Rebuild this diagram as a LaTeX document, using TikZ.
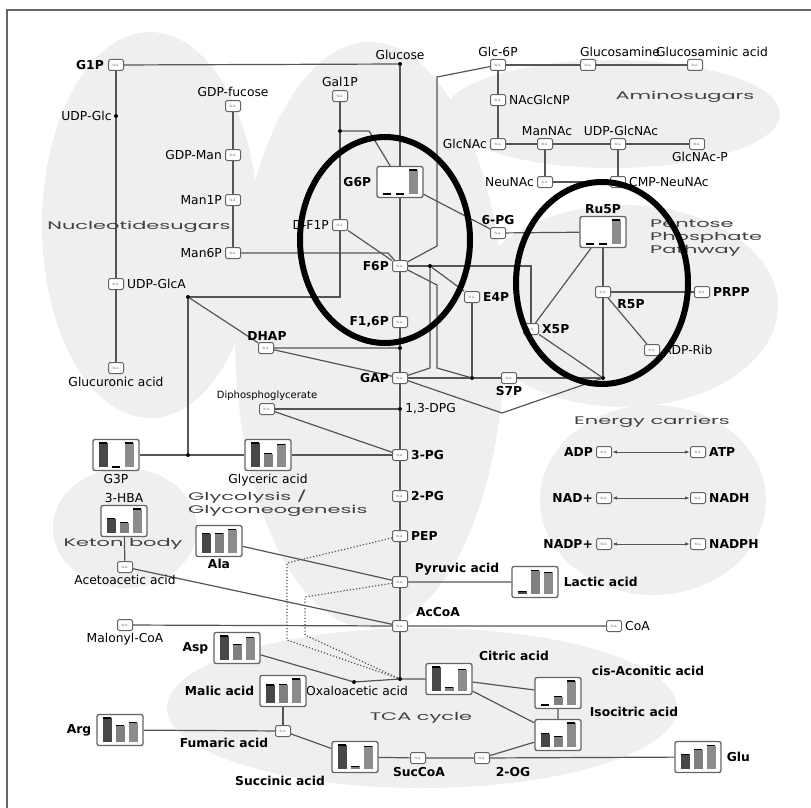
\documentclass[tikz,border=0pt]{standalone}
\usepackage{fontspec}
\setmainfont{DejaVu Sans}
\newfontfamily\grpfont[FakeStretch=1.9]{Poppins}
\usetikzlibrary{positioning,arrows.meta}

\definecolor{blobgray}{RGB}{238,240,239}
\definecolor{wire}{RGB}{85,85,85}
\definecolor{boxgray}{RGB}{100,100,100}
\definecolor{barA}{RGB}{72,72,72}
\definecolor{barB}{RGB}{128,128,128}
\definecolor{barC}{RGB}{140,140,140}

\pgfdeclarelayer{blobs}
\pgfdeclarelayer{wires}
\pgfsetlayers{blobs,wires,main}

\tikzset{
  na/.style={draw=boxgray, fill=white, line width=1pt, rounded corners=1.5pt,
    minimum width=15pt, minimum height=11pt, inner sep=0pt,
    font=\fontsize{3.2}{3.5}\selectfont, text=black!60},
  chart/.style={draw=boxgray, fill=white, line width=1.3pt, rounded corners=2pt,
    minimum width=46pt, minimum height=31pt, inner sep=0pt},
  lbl/.style={inner sep=1pt, font=\fontsize{12.3}{13}\selectfont},
  slbl/.style={inner sep=1pt, font=\fontsize{10}{11}\selectfont},
  blbl/.style={inner sep=1pt, font=\fontsize{12.3}{13}\selectfont\bfseries},
  grp/.style={inner sep=0pt, font=\fontsize{11}{13}\grpfont, text=black!75, align=left},
  jdot/.style={circle, fill=black, inner sep=0pt, minimum size=4pt},
  link/.style={draw=wire, line width=1.2pt},
  swap/.style={draw=wire, line width=1pt, <->, >={Latex[length=5pt,width=3.5pt]}},
  loopring/.style={draw=black, line width=6pt},
}

% chart box with three bars: name, x, y, h1, h2, h3
\newcommand{\barchart}[6]{%
  \node[chart] (#1) at (#2,#3) {};
  \foreach \bh/\dx/\bcol in {#4/-13/barA,#5/0/barB,#6/13/barC}{
    \fill[\bcol] ({#2+\dx-4.5},{#3+12}) rectangle ({#2+\dx+4.5},{#3+12-24*\bh});
    \draw[line width=1.1pt] ({#2+\dx-4},{#3+12-24*\bh}) -- ({#2+\dx+4},{#3+12-24*\bh});
  }
}

\begin{document}
\begin{tikzpicture}[x=1pt,y=-1pt]
  \useasboundingbox (0,0) rectangle (811,808);
  \draw[boxgray, line width=1.3pt] (7,808) -- (7,10) -- (811,10);

  % sugars, top part
  \node[na] (g1p) at (116,65) {N.A.};
  \node[blbl, left=3pt of g1p] (g1p-t) {G1P};
  \node[jdot] (glu) at (400,64) {};
  \node[lbl, above=1pt of glu] (glu-t) {Glucose};
  \node[na] (glc6p) at (498,65) {N.A.};
  \node[lbl, above=1pt of glc6p] (glc6p-t) {Glc-6P};
  \node[na] (gln) at (588,65) {N.A.};
  \node[lbl] (gln-t) at (620,52) {Glucosamine};
  \node[na] (glna) at (695,65) {N.A.};
  \node[lbl] (glna-t) at (712,52) {Glucosaminic acid};

  \node[jdot] (udpglc) at (116,116) {};
  \node[lbl, left=1pt of udpglc] (udpglc-t) {UDP-Glc};
  \node[na] (udpglca) at (116,284) {N.A.};
  \node[lbl, right=2pt of udpglca] (udpglca-t) {UDP-GlcA};
  \node[na] (glcua) at (116,368) {N.A.};
  \node[lbl, below=2pt of glcua] (glcua-t) {Glucuronic acid};

  \node[na] (gdpfuc) at (233,106) {N.A.};
  \node[lbl, above=2pt of gdpfuc] (gdpfuc-t) {GDP-fucose};
  \node[na] (gdpman) at (233,155) {N.A.};
  \node[lbl, left=2pt of gdpman] (gdpman-t) {GDP-Man};
  \node[na] (man1p) at (233,200) {N.A.};
  \node[lbl, left=2pt of man1p] (man1p-t) {Man1P};
  \node[na] (man6p) at (233,253) {N.A.};
  \node[lbl, left=2pt of man6p] (man6p-t) {Man6P};

  \node[na] (gal1p) at (340,96) {N.A.};
  \node[lbl, above=2pt of gal1p] (gal1p-t) {Gal1P};
  \node[jdot] (galj) at (340,131) {};
  \node[na] (df1p) at (340,225) {N.A.};
  \node[lbl, left=2pt of df1p] (df1p-t) {D-F1P};

  % aminosugars
  \node[na] (nacglcnp) at (498,100) {N.A.};
  \node[lbl, right=2pt of nacglcnp] (nacglcnp-t) {NAcGlcNP};
  \node[na] (glcnac) at (498,144) {N.A.};
  \node[lbl, left=2pt of glcnac] (glcnac-t) {GlcNAc};
  \node[na] (mannac) at (545,144) {N.A.};
  \node[lbl] (mannac-t) at (547,131) {ManNAc};
  \node[na] (udpglcnac) at (618,144) {N.A.};
  \node[lbl] (udpglcnac-t) at (621,131) {UDP-GlcNAc};
  \node[na] (glcnacp) at (697,144) {N.A.};
  \node[lbl] (glcnacp-t) at (700,157) {GlcNAc-P};
  \node[na] (neunac) at (545,182) {N.A.};
  \node[lbl, left=2pt of neunac] (neunac-t) {NeuNAc};
  \node[na] (cmpneunac) at (618,182) {N.A.};
  \node[lbl, right=2pt of cmpneunac] (cmpneunac-t) {CMP-NeuNAc};

  % glycolysis
  \barchart{g6p}{400}{182}{0}{0}{1}
  \node[blbl, left=4pt of g6p] (g6p-t) {G6P};
  \node[na] (f6p) at (400,266) {N.A.};
  \node[blbl, left=2pt of f6p] (f6p-t) {F6P};
  \node[na] (f16p) at (400,322) {N.A.};
  \node[blbl, left=2pt of f16p] (f16p-t) {F1,6P};
  \node[jdot] (dhapj) at (400,348) {};
  \node[na] (gap) at (400,378) {N.A.};
  \node[blbl, left=2pt of gap] (gap-t) {GAP};
  \node[jdot] (dpgj) at (400,409) {};
  \node[lbl, right=2pt of dpgj] (dpgj-t) {1,3-DPG};
  \node[na] (pg3) at (400,455) {N.A.};
  \node[blbl, right=2pt of pg3] (pg3-t) {3-PG};
  \node[na] (pg2) at (400,496) {N.A.};
  \node[blbl, right=2pt of pg2] (pg2-t) {2-PG};
  \node[na] (pep) at (400,536) {N.A.};
  \node[blbl, right=2pt of pep] (pep-t) {PEP};
  \node[na] (pyr) at (400,582) {N.A.};
  \node[blbl] (pyr-t) at (457,569) {Pyruvic acid};
  \node[na] (accoa) at (400,626) {N.A.};
  \node[blbl] (accoa-t) at (438,612) {AcCoA};
  \node[jdot] (tcaj) at (400,679) {};

  \node[na] (dhap) at (266,348) {N.A.};
  \node[blbl] (dhap-t) at (267,336) {DHAP};
  \node[jdot] (g3pj1) at (188,297) {};
  \node[jdot] (g3pj2) at (188,455) {};
  \barchart{g3p}{116}{455}{1}{0}{1}
  \node[lbl, below=2pt of g3p] (g3p-t) {G3P};
  \barchart{glya}{268}{455}{1}{0.55}{0.95}
  \node[lbl, below=2pt of glya] (glya-t) {Glyceric acid};
  \node[na] (dpg) at (267,409) {N.A.};
  \node[slbl, above=1pt of dpg] (dpg-t) {Diphosphoglycerate};

  % pentose phosphate
  \node[na] (pg6) at (498,233) {N.A.};
  \node[blbl, above=1pt of pg6] (pg6-t) {6-PG};
  \barchart{ru5p}{603}{232}{0}{0}{1}
  \node[blbl, above=1pt of ru5p] (ru5p-t) {Ru5P};
  \node[jdot] (f6pj) at (430,266) {};
  \node[na] (e4p) at (472,297) {N.A.};
  \node[blbl, right=2pt of e4p] (e4p-t) {E4P};
  \node[na] (x5p) at (531,329) {N.A.};
  \node[blbl, right=2pt of x5p] (x5p-t) {X5P};
  \node[jdot] (s7pj) at (472,378) {};
  \node[na] (s7p) at (509,378) {N.A.};
  \node[blbl, below=1pt of s7p] (s7p-t) {S7P};
  \node[jdot] (r5pj) at (603,378) {};
  \node[na] (r5p) at (603,292) {N.A.};
  \node[blbl] (r5p-t) at (631,304) {R5P};
  \node[na] (prpp) at (702,292) {N.A.};
  \node[blbl, right=2pt of prpp] (prpp-t) {PRPP};
  \node[na] (adprib) at (652,350) {N.A.};
  \node[lbl, right=2pt of adprib] (adprib-t) {ADP-Rib};

  % energy carriers
  \node[na] (adp) at (604,452) {N.A.};
  \node[blbl, left=2pt of adp] (adp-t) {ADP};
  \node[na] (atp) at (698,452) {N.A.};
  \node[blbl, right=2pt of atp] (atp-t) {ATP};
  \node[na] (nad) at (604,498) {N.A.};
  \node[blbl, left=2pt of nad] (nad-t) {NAD+};
  \node[na] (nadh) at (698,498) {N.A.};
  \node[blbl, right=2pt of nadh] (nadh-t) {NADH};
  \node[na] (nadp) at (604,544) {N.A.};
  \node[blbl, left=2pt of nadp] (nadp-t) {NADP+};
  \node[na] (nadph) at (698,544) {N.A.};
  \node[blbl, right=2pt of nadph] (nadph-t) {NADPH};

  % keton body, pyruvate, AcCoA
  \barchart{hba}{124}{521}{0.6}{0.42}{1}
  \node[lbl, above=1pt of hba] (hba-t) {3-HBA};
  \node[na] (acac) at (125,567) {N.A.};
  \node[lbl, below=1pt of acac] (acac-t) {Acetoacetic acid};
  \barchart{ala}{219}{541}{0.8}{0.82}{0.97}
  \node[blbl, below=1pt of ala] (ala-t) {Ala};
  \barchart{lac}{535}{582}{0.12}{0.97}{0.9}
  \node[blbl, right=4pt of lac] (lac-t) {Lactic acid};
  \node[na] (malcoa) at (125,625) {N.A.};
  \node[lbl, below=1pt of malcoa] (malcoa-t) {Malonyl-CoA};
  \node[na] (coa) at (614,626) {N.A.};
  \node[lbl, right=2pt of coa] (coa-t) {CoA};

  % TCA cycle
  \barchart{asp}{237}{648}{1}{0.65}{0.92}
  \node[blbl, left=4pt of asp] (asp-t) {Asp};
  \node[jdot] (oaaj) at (354,682) {};
  \node[lbl] (oaaj-t) at (357,691) {Oxaloacetic acid};
  \barchart{mal}{283}{691}{0.75}{0.77}{1}
  \node[blbl, left=4pt of mal] (mal-t) {Malic acid};
  \node[na] (fum) at (283,731) {N.A.};
  \node[blbl] (fum-t) at (224,743) {Fumaric acid};
  \barchart{arg}{120}{730}{1}{0.68}{0.8}
  \node[blbl, left=4pt of arg] (arg-t) {Arg};
  \barchart{suc}{355}{757}{1}{0.12}{0.95}
  \node[blbl] (suc-t) at (280,781) {Succinic acid};
  \node[na] (succoa) at (418,758) {N.A.};
  \node[blbl] (succoa-t) at (419,772) {SucCoA};
  \node[na] (og2) at (482,758) {N.A.};
  \node[blbl] (og2-t) at (513,772) {2-OG};
  \barchart{glut}{698}{757}{0.62}{0.8}{0.97}
  \node[blbl, right=4pt of glut] (glut-t) {Glu};
  \barchart{cit}{449}{679}{1}{0.15}{0.88}
  \node[blbl] (cit-t) at (514,656) {Citric acid};
  \barchart{cisa}{558}{693}{0}{0.35}{1}
  \node[blbl] (cisa-t) at (648,671) {cis-Aconitic acid};
  \barchart{icit}{558}{735}{0.55}{0.45}{1}
  \node[blbl] (icit-t) at (634,712) {Isocitric acid};

  % group names
  \node[grp] (grp-nuc) at (139,227) {Nucleotidesugars};
  \node[grp] (grp-amino) at (685,97) {Aminosugars};
  \node[grp, anchor=west] (grp-ppp) at (650,238) {Pentose\\Phosphate\\Pathway};
  \node[grp] (grp-en) at (652,422) {Energy carriers};
  \node[grp, anchor=west] (grp-gly) at (188,503) {Glycolysis /\\Glyconeogenesis};
  \node[grp] (grp-ket) at (123,544) {Keton body};
  \node[grp] (grp-tca) at (421,718) {TCA cycle};

  % connectors
  \begin{pgfonlayer}{wires}
    \draw[link] (g1p) -- (glu);
    \draw[link] (g1p) -- (udpglc) -- (udpglca) -- (glcua);
    \draw[link] (gdpfuc) -- (gdpman) -- (man1p) -- (man6p);
    \draw[link] (man6p) -- (388,253) -- (f6p);
    \draw[link] (gal1p) -- (galj) -- (df1p) -- (340,297) -- (g3pj1);
    \draw[link] (galj) -- (369,131) -- (g6p);
    \draw[link] (df1p) -- (f6p);
    \draw[link] (glu) -- (f6p);
    \draw[link] (g6p) -- (pg6) -- (ru5p);
    \draw[link] (glc6p) -- (437,77) -- (437,246) -- (f6p);
    \draw[link] (glc6p) -- (gln) -- (glna);
    \draw[link] (glc6p) -- (nacglcnp) -- (glcnac) -- (mannac) -- (udpglcnac) -- (glcnacp);
    \draw[link] (mannac) -- (neunac) -- (cmpneunac) -- (udpglcnac);
    \draw[link] (f6p) -- (f16p) -- (dhapj) -- (gap) -- (dpgj) -- (pg3) -- (pg2)
      -- (pep) -- (pyr) -- (accoa) -- (tcaj);
    \draw[link] (f6p) -- (f6pj) -- (531,266) -- (x5p);
    \draw[link] (f6pj) -- (e4p);
    \draw[link] (f6pj) -- (430,368) -- (gap);
    \draw[link] (f6p) -- (437,285) -- (437,368) -- (s7pj);
    \draw[link] (e4p) -- (s7pj);
    \draw[link] (gap) -- (s7pj) -- (s7p) -- (r5pj);
    \draw[link] (gap) -- (502,413) -- (r5pj);
    \draw[link] (ru5p) -- (x5p) -- (r5pj);
    \draw[link] (ru5p) -- (r5p) -- (r5pj);
    \draw[link] (r5p) -- (prpp);
    \draw[link] (r5p) -- (adprib);
    \draw[link] (g3pj1) -- (dhap) -- (dhapj);
    \draw[link] (dhap) -- (gap);
    \draw[link] (g3pj1) -- (g3pj2);
    \draw[link] (g3p) -- (g3pj2) -- (glya) -- (pg3);
    \draw[link] (dpg) -- (dpgj);
    \draw[link] (dpg) -- (pg3);
    \draw[link] (hba) -- (acac) -- (accoa);
    \draw[link] (ala) -- (pyr) -- (lac);
    \draw[link] (malcoa) -- (accoa) -- (coa);
    \draw[link, dotted] (pep) -- (287,563) -- (287,640) -- (tcaj);
    \draw[link, dotted] (pyr) -- (305,597) -- (305,635) -- (tcaj);
    \draw[link] (asp) -- (oaaj) -- (tcaj) -- (cit);
    \draw[link] (mal) -- (fum);
    \draw[link] (arg) -- (fum) -- (suc) -- (succoa) -- (og2) -- (glut);
    \draw[link] (og2) -- (icit);
    \draw[link] (cit) -- (cisa) -- (icit);
    \draw[link] (cit) -- (icit);
    \draw[swap] (adp) -- (atp);
    \draw[swap] (nad) -- (nadh);
    \draw[swap] (nadp) -- (nadph);
  \end{pgfonlayer}

  % grey areas
  \begin{pgfonlayer}{blobs}
    \fill[blobgray] (150,225) ellipse [x radius=108pt, y radius=193pt];
    \fill[blobgray] (370,335) ellipse [x radius=135pt, y radius=293pt];
    \fill[blobgray] (612,114) ellipse [x radius=168pt, y radius=54pt];
    \fill[blobgray] (623,306) ellipse [x radius=155pt, y radius=101pt];
    \fill[blobgray] (653,500) ellipse [x radius=113pt, y radius=95pt];
    \fill[blobgray] (125,528) ellipse [x radius=72pt, y radius=60pt];
    \fill[blobgray] (422,708) ellipse [x radius=255pt, y radius=80pt];
  \end{pgfonlayer}

  % highlighted rings
  \draw[loopring] (385,240) ellipse [x radius=85pt, y radius=103pt];
  \draw[loopring] (602,283) ellipse [x radius=86pt, y radius=101pt];
\end{tikzpicture}
\end{document}
